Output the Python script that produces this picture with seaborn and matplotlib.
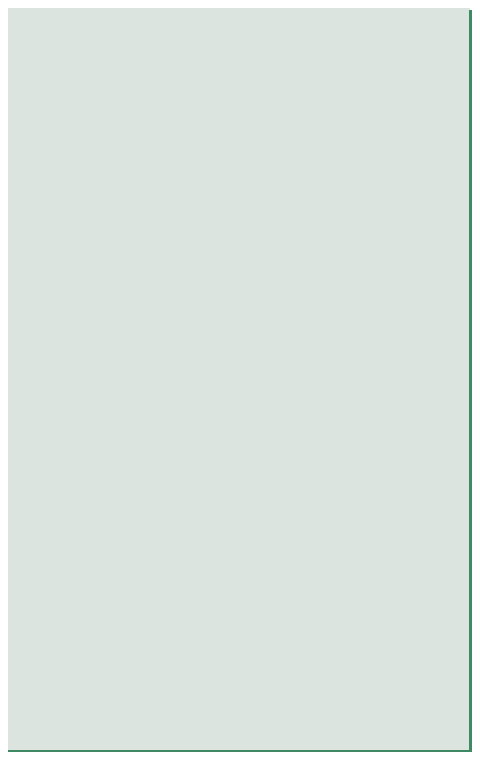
import matplotlib.pyplot as plt
import seaborn as sns
import numpy as np
from matplotlib.patches import Rectangle

sns.set_style("white")
plt.rcParams['font.family'] = ['Lato', 'DejaVu Sans']

FILL = '#bccdbf'
EDGE = '#3f8a64'

# band edges: (pH, y position from top, in picture units)
fungi_top = [(4, 94), (9, 94)]
fungi_bot = [(4, 136), (9, 136)]
bact_top = [(4, 162), (5.4, 145), (9, 145)]
bact_bot = [(4, 169), (5.4, 185), (9, 185)]
n_top = [(4, 212), (5.4, 196), (9, 196)]
n_bot = [(4, 218), (5.4, 236), (9, 236)]
k_top = [(4, 265), (6.0, 246), (9, 246)]
k_bot = [(4, 273), (6.0, 293), (9, 293)]
s_top = [(4, 319), (5.4, 303), (9, 303)]
s_bot = [(4, 320), (5.4, 343), (9, 343)]
camg_top = [(4, 385), (4.55, 379), (5.8, 372), (6.83, 368), (7.75, 343), (9, 343)]
camg_bot = [(4, 395), (5.08, 406), (5.8, 414), (6.8, 414), (7.04, 420)]
camg_dash = [(7.75, 343), (8.4, 336), (9, 331)]
p_top_left = (4, 5.65, 432, 420)
p_top_right = (7.04, 9, 420, 450)
p_bot_left = (4, 5.65, 442, 461)
p_bot_right = [(5.65, 461), (9, 461)]
fe_top = [(5.65, 461), (5.9, 468), (9, 485)]
fe_bot = [(4, 545), (6.18, 512), (6.83, 505), (9, 495)]
mo_top = [(4, 550), (6.12, 531), (7.0, 527), (9, 511)]
mo_bot = [(4, 555), (6.12, 572), (9, 586)]
cu_top = [(4, 592), (5.17, 579), (6.83, 579), (9, 590)]
cu_bot = [(4, 608), (5.17, 621), (6.83, 621), (9, 609)]
b_top = [(4, 641), (5.17, 627), (6.83, 627), (8.5, 638), (9, 632)]
b_bot = [(4, 664), (5.17, 670), (6.83, 670), (8.5, 660), (9, 667)]
zn_top = [(4, 674), (5.17, 682), (6.83, 682), (9, 697)]
zn_bot = [(4, 729), (5.17, 720), (6.83, 720), (9, 706)]
s_curve = [(4, 320), (4.15, 340), (4.3, 358), (4.55, 379)]

labels = ['Fungi', 'Bacteria and actinomycetes', 'N', 'K', 'S', 'Ca, Mg', 'P',
          'Fe, Mn', 'Mo', 'Cu', 'B', 'Zn']
label_y = [114, 164, 216, 271, 323, 390, 440, 489, 550, 600, 648, 700]


def crenel(x0, x1, y0, y1, n, amp=5):
    pts = []
    dx = (x1 - x0) / n
    base = lambda x: y0 + (y1 - y0) * (x - x0) / (x1 - x0)
    for i in range(n):
        xa = x0 + i * dx
        xb, xc = xa + 0.45 * dx, xa + 0.85 * dx
        pts += [(xa, base(xa)), (xb, base(xb)), (xb, base(xb) - amp),
                (xc, base(xc) - amp), (xc, base(xc))]
    pts.append((x1, y1))
    return pts


fig = plt.figure(figsize=(4.8, 7.76), dpi=100)
fig.patches.append(Rectangle((8 / 480, 1 - 750 / 776), 462 / 480, 742 / 776,
                             transform=fig.transFigure, fc='#dbe4df', ec='none', zorder=0))
fig.patches.append(Rectangle((8 / 480, 1 - 752 / 776), 464 / 480, 2 / 776,
                             transform=fig.transFigure, fc=EDGE, ec='none', zorder=0))
fig.patches.append(Rectangle((469 / 480, 1 - 752 / 776), 3 / 480, 742 / 776,
                             transform=fig.transFigure, fc=EDGE, ec='none', zorder=0))
ax = fig.add_axes([25 / 480, 1 - 737 / 776, 424 / 480, 676 / 776])
ax.set_facecolor('white')


def band(top, bot, **kw):
    poly = list(top) + list(reversed(bot))
    xs, ys = zip(*poly)
    ax.fill(xs, ys, **kw)


def edge(pts, **kw):
    xs, ys = zip(*pts)
    sns.lineplot(x=list(xs), y=list(ys), sort=False, estimator=None, ax=ax,
                 color=EDGE, lw=1.6, **kw)


p_tl = crenel(*p_top_left, 9)
p_tr = crenel(*p_top_right, 8)
p_bl = crenel(*p_bot_left, 9)
p_top = p_tl + [(7.04, 420)] + p_tr
p_bot = p_bl + p_bot_right
camg_full_bot = camg_bot + p_tr

# hatched aluminium and S corner
al_top = [(4, 395), (5.08, 406), (5.8, 414), (6.0, 416)]
band(al_top, p_tl + [(6.0, 419)], fc='white', ec='#999999', hatch='//////', lw=0)
band(s_curve, [(4, 320), (4, 385)], fc='white', ec='#999999', hatch='//////', lw=0)

bands = [(fungi_top, fungi_bot), (bact_top, bact_bot), (n_top, n_bot), (k_top, k_bot),
         (s_top, s_bot), (camg_top, camg_full_bot), (p_top, p_bot),
         (p_bl + fe_top, fe_bot), (mo_top, mo_bot),
         (cu_top, cu_bot), (b_top, b_bot), (zn_top, zn_bot)]
for t, b in bands:
    band(t, b, fc=FILL, ec='none')
    edge(t)
    edge(b)
edge(s_curve)
xs, ys = zip(*camg_dash)
ax.plot(xs, ys, color=EDGE, lw=1.6, ls=(0, (4, 2)))

for lab, y in zip(labels, label_y):
    ax.text(6.5, y, lab, ha='center', va='center', fontsize=7.5, color='#222222')
ax.text(4.65, 415, 'Al', ha='center', va='center', fontsize=7.5, color='#222222')

ax.set_xlim(4, 9)
ax.set_ylim(737, 61)
ax.xaxis.tick_top()
ax.xaxis.set_label_position('top')
ax.set_xticks([4, 5, 6, 7, 8, 9])
ax.set_xticklabels(['4', '5', '6', '7', '8', '9'])
ax.tick_params(axis='x', direction='in', length=5, labelsize=8, pad=3, color='#333333')
ax.set_yticks([])
ax.set_xlabel('Soil pH', fontsize=8, labelpad=8)
for sp in ax.spines.values():
    sp.set_color('#333333')
    sp.set_linewidth(1)
ax.spines['right'].set_linewidth(2)
ax.spines['bottom'].set_linewidth(2)

fig.savefig('out.png', dpi=100)
